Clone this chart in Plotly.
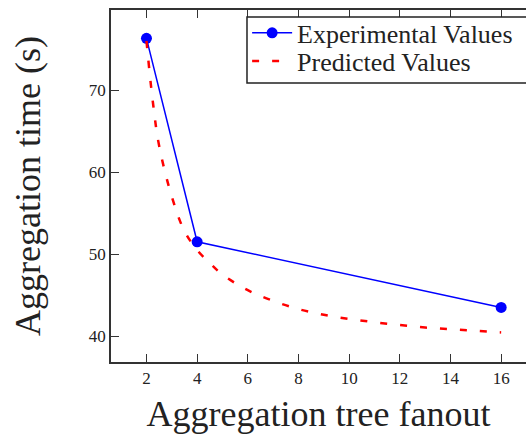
import plotly.graph_objects as go

# Experimental measurements
exp_fanout = [2, 4, 16]
exp_time = [76.3, 51.5, 43.5]

# Predicted curve
pred_fanout = [2, 2.25, 2.5, 3, 3.5, 4, 4.5, 5, 6, 7, 8, 9, 10, 11, 12, 13, 14, 15, 16]
pred_time = [76.0, 68.6, 63.2, 57.0, 52.8, 50.5, 48.9, 47.5, 45.6, 44.3, 43.3,
             42.6, 42.1, 41.7, 41.35, 41.05, 40.85, 40.65, 40.45]

x_ticks = [2, 4, 6, 8, 10, 12, 14, 16]
y_ticks = [40, 50, 60, 70]

FONT = "Liberation Serif, Times New Roman, serif"
AXC = "#333333"

fig = go.Figure()
fig.add_trace(go.Scatter(
    x=exp_fanout, y=exp_time, mode="lines+markers", name="Experimental Values",
    line=dict(color="#0000ff", width=1.5),
    marker=dict(color="#0000ff", size=11, symbol="circle"),
    legend="legend",
))
fig.add_trace(go.Scatter(
    x=pred_fanout, y=pred_time, mode="lines", name="Predicted Values",
    line=dict(color="#ff0000", width=2.5, dash="7px,13px", shape="spline"),
    legend="legend2",
))

leg_common = dict(
    xanchor="left", yanchor="middle",
    bgcolor="rgba(0,0,0,0)", borderwidth=0,
    font=dict(family=FONT, size=26, color="#222222"),
    tracegroupgap=0, itemwidth=40,
)

fig.update_layout(
    width=526, height=436,
    margin=dict(l=111, r=0, t=10, b=74),
    paper_bgcolor="white", plot_bgcolor="white",
    font=dict(family=FONT, color="#222222"),
    showlegend=True,
    legend=dict(x=0.328, y=0.935, **leg_common),
    legend2=dict(x=0.328, y=0.855, **leg_common),
    shapes=[dict(
        type="rect", xref="paper", yref="paper",
        x0=0.3277, x1=1.05, y0=0.7926, y1=0.980,
        line=dict(color="#222222", width=1.5), fillcolor="white", layer="above",
    )],
    xaxis=dict(
        range=[0.6, 16.98], tickvals=x_ticks, ticktext=[str(v) for v in x_ticks],
        ticks="inside", ticklen=8, tickwidth=1.2, tickcolor=AXC,
        showline=True, linecolor=AXC, linewidth=1.6, mirror="ticks",
        showgrid=False, zeroline=False,
        tickfont=dict(family=FONT, size=17),
        title=dict(text="Aggregation tree fanout", font=dict(family=FONT, size=36), standoff=14),
    ),
    yaxis=dict(
        range=[36.85, 79.75], tickvals=y_ticks, ticktext=[str(v) for v in y_ticks],
        ticks="inside", ticklen=8, tickwidth=1.2, tickcolor=AXC,
        showline=True, linecolor=AXC, linewidth=1.6, mirror=False,
        showgrid=False, zeroline=False,
        tickfont=dict(family=FONT, size=17),
        title=dict(text="Aggregation time (s)", font=dict(family=FONT, size=36), standoff=37),
    ),
)

fig.write_html("out.html")
